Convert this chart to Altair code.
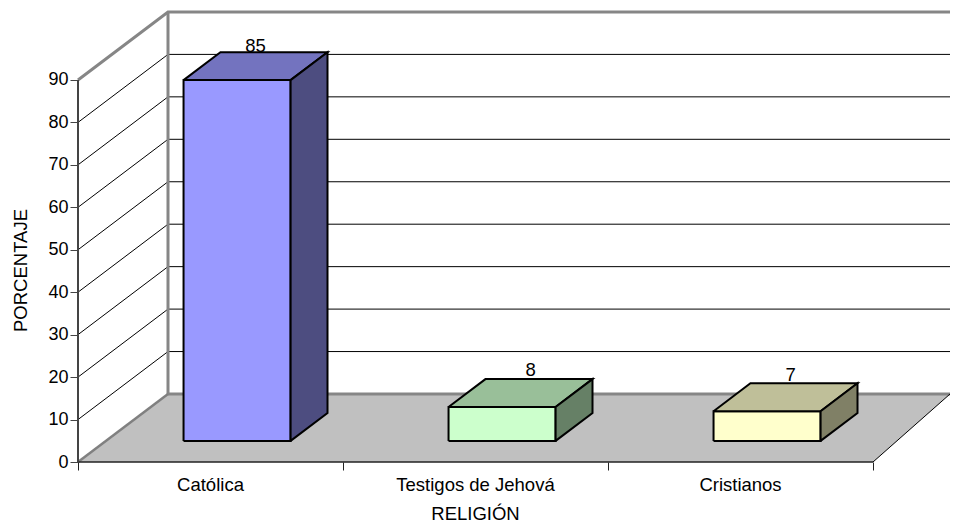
import altair as alt
import pandas as pd

categories = ["Católica", "Testigos de Jehová", "Cristianos"]
values = [85, 8, 7]
y_ticks = [0, 10, 20, 30, 40, 50, 60, 70, 80, 90]
front_colors = ["#9999FF", "#CCFFCC", "#FFFFCC"]
top_colors = ["#7373BF", "#99BF99", "#BFBF99"]
side_colors = ["#4D4D80", "#668066", "#808066"]
label_x = [0.67, 1.708, 2.689]
label_y = [96.6, 20.3, 19.1]

PLOT_W, PLOT_H = 872, 452
CAT_PX, VAL_PX = 265.0, 4.245
DX, DY = 90 / CAT_PX, 68 / VAL_PX   # oblique offset of full chart depth, in data units
X_DOMAIN = [0, PLOT_W / CAT_PX]
Y_DOMAIN = [0, PLOT_H / VAL_PX]
BAR_START, BAR_W = 0.293, 0.404
Z0, Z1 = 0.31, 0.72
FONT = "Liberation Sans"

x_enc = alt.X("x:Q", scale=alt.Scale(domain=X_DOMAIN, nice=False, zero=False, clamp=True),
              axis=alt.Axis(values=[0, 1, 2, 3], grid=False, domain=False, tickColor="#222222",
                            tickSize=8, tickWidth=1, labelFontSize=18.5, labelColor="#000000",
                            labelOffset=132, labelPadding=5, labelFont=FONT,
                            labelExpr="['" + "','".join(categories) + "',''][round(datum.value)]",
                            labelAlign="center", title="RELIGIÓN", titleFontWeight="normal",
                            titleFontSize=18.5, titleFont=FONT, titleColor="#000000",
                            titleX=397, titleY=42, titleAnchor=None))
y_enc = alt.Y("y:Q", scale=alt.Scale(domain=Y_DOMAIN, nice=False, zero=False),
              axis=alt.Axis(values=y_ticks, grid=False, domain=False, tickColor="#444444",
                            tickSize=8, tickWidth=1, labelFontSize=18, labelColor="#000000",
                            labelPadding=2, labelFont=FONT,
                            title="PORCENTAJE", titleFontWeight="normal", titleFontSize=18.5,
                            titleFont=FONT, titleColor="#000000",
                            titleX=-48, titleY=260, titleAnchor=None))


def pt(c, v, z=0.0):
    """Project (category position, value, depth 0..1) to the flat chart units."""
    return (c + z * DX, v + z * DY)


def shape(points, stroke, width, fill=None):
    df = pd.DataFrame({"x": [p[0] for p in points], "y": [p[1] for p in points],
                       "i": list(range(len(points)))})
    kw = {"stroke": stroke, "strokeWidth": width, "strokeJoin": "miter"}
    if fill:
        kw["fill"] = fill
    return alt.Chart(df).mark_line(**kw).encode(x=x_enc, y=y_enc, order="i:Q")


layers = []
# floor
layers.append(shape([pt(0, 0), pt(3, 0), pt(3, 0, 1), pt(0, 0, 1), pt(0, 0)], "#C0C0C0", 0.01, fill="#C0C0C0"))
# side wall grid lines and back wall grid lines
for t in y_ticks[1:-1]:
    layers.append(shape([pt(0, t), pt(0, t, 1), pt(3, t, 1)], "#000000", 1))
# walls frame
layers.append(shape([pt(0, 90), pt(0, 90, 1), pt(3, 90, 1)], "#868686", 3))
layers.append(shape([pt(0, 0, 1), pt(0, 90, 1)], "#868686", 3))
layers.append(shape([pt(0, 0, 1), pt(3, 0, 1)], "#868686", 3))
layers.append(shape([pt(0, 0), pt(0, 0, 1)], "#808080", 2.5))
layers.append(shape([pt(3, 0), pt(3, 0, 1)], "#000000", 1))
layers.append(shape([pt(0, 0), pt(3, 0)], "#222222", 1.5))
layers.append(shape([pt(0, 0), pt(0, 90)], "#444444", 2))

# bars
for k, v in enumerate(values):
    a = k + BAR_START
    b = a + BAR_W
    layers.append(shape([pt(a, 0, Z0), pt(b, 0, Z0), pt(b, v, Z0), pt(a, v, Z0), pt(a, 0, Z0)],
                        "#000000", 2, fill=front_colors[k]))
    layers.append(shape([pt(a, v, Z0), pt(b, v, Z0), pt(b, v, Z1), pt(a, v, Z1), pt(a, v, Z0)],
                        "#000000", 2, fill=top_colors[k]))
    layers.append(shape([pt(b, 0, Z0), pt(b, 0, Z1), pt(b, v, Z1), pt(b, v, Z0), pt(b, 0, Z0)],
                        "#000000", 2, fill=side_colors[k]))

labels = pd.DataFrame({"x": label_x, "y": label_y, "t": [str(v) for v in values]})
layers.append(alt.Chart(labels).mark_text(fontSize=18.5, font=FONT, color="#000000",
                                          baseline="alphabetic", align="center")
              .encode(x=x_enc, y=y_enc, text="t:N"))

chart = alt.layer(*layers).properties(
    width=PLOT_W, height=PLOT_H,
    autosize=alt.AutoSizeParams(type="none"),
    padding={"left": 70, "top": 2, "right": 0, "bottom": 60},
).configure_view(stroke=None)

chart.save("out.html", embed_options={"renderer": "svg", "actions": False})
